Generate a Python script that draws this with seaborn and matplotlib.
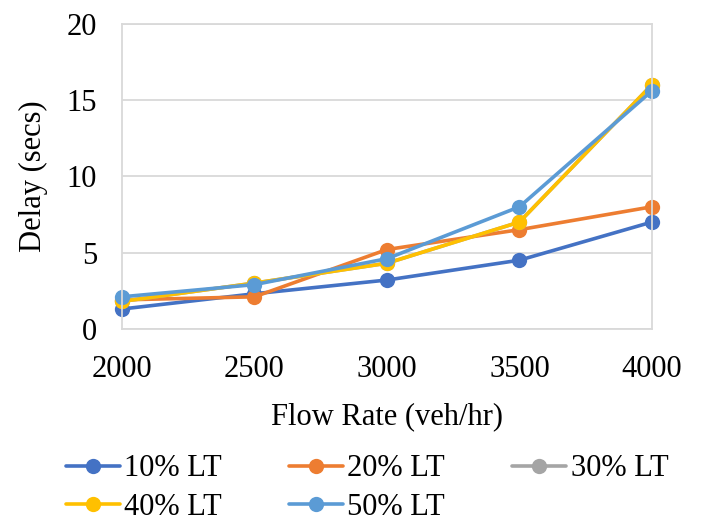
import matplotlib
matplotlib.use("Agg")
import matplotlib.pyplot as plt
import seaborn as sns
import pandas as pd

flow = [2000, 2500, 3000, 3500, 4000]
lt10 = [1.3, 2.3, 3.2, 4.5, 7.0]
lt20 = [1.9, 2.1, 5.2, 6.5, 8.0]
lt30 = [1.8, 3.0, 4.3, 7.0, 16.0]
lt40 = [1.8, 3.0, 4.3, 7.0, 16.0]
lt50 = [2.1, 2.9, 4.6, 8.0, 15.6]
series = ["10% LT", "20% LT", "30% LT", "40% LT", "50% LT"]
colors = ["#4472C4", "#ED7D31", "#A5A5A5", "#FFC000", "#5B9BD5"]

rows = []
for name, vals in zip(series, [lt10, lt20, lt30, lt40, lt50]):
    for f, v in zip(flow, vals):
        rows.append({"Flow": f, "Delay": v, "Series": name})
df = pd.DataFrame(rows)

sns.set_style("white")
plt.rcParams["font.family"] = ["Liberation Serif", "DejaVu Serif"]
plt.rcParams["text.color"] = "black"
plt.rcParams["axes.labelcolor"] = "black"
plt.rcParams["xtick.color"] = "black"
plt.rcParams["ytick.color"] = "black"

fig = plt.figure(figsize=(7.01, 5.27), dpi=100)
ax = fig.add_axes([0.174, 0.376, 0.756, 0.579])
sns.lineplot(data=df, x="Flow", y="Delay", hue="Series", hue_order=series,
             palette=colors, marker="o", markersize=11, markeredgewidth=0,
             linewidth=2.6, ax=ax, clip_on=False, legend=True)

ax.set_xlim(2000, 4000)
ax.set_ylim(0, 20)
ax.set_xticks(flow)
ax.set_yticks([0, 5, 10, 15, 20])
ax.yaxis.grid(True, color="#D9D9D9", linewidth=1.3)
for s in ax.spines.values():
    s.set_color("#D9D9D9")
    s.set_linewidth(1.3)
ax.tick_params(axis="y", labelsize=22, length=0, pad=18)
ax.tick_params(axis="x", labelsize=22, length=0, pad=19)
ax.set_xlabel("Flow Rate (veh/hr)", fontsize=22, labelpad=13)
ax.set_ylabel("Delay (secs)", fontsize=22, labelpad=13)

handles, labels = ax.get_legend_handles_labels()
ax.get_legend().remove()
order = [0, 3, 1, 4, 2]
fig.legend([handles[i] for i in order], [labels[i] for i in order],
           loc="lower center", bbox_to_anchor=(0.524, -0.042),
           ncol=3, frameon=False, fontsize=22, handlelength=1.75,
           handletextpad=0.15, columnspacing=2.2, labelspacing=0.3)

fig.savefig("out.png", dpi=100)
